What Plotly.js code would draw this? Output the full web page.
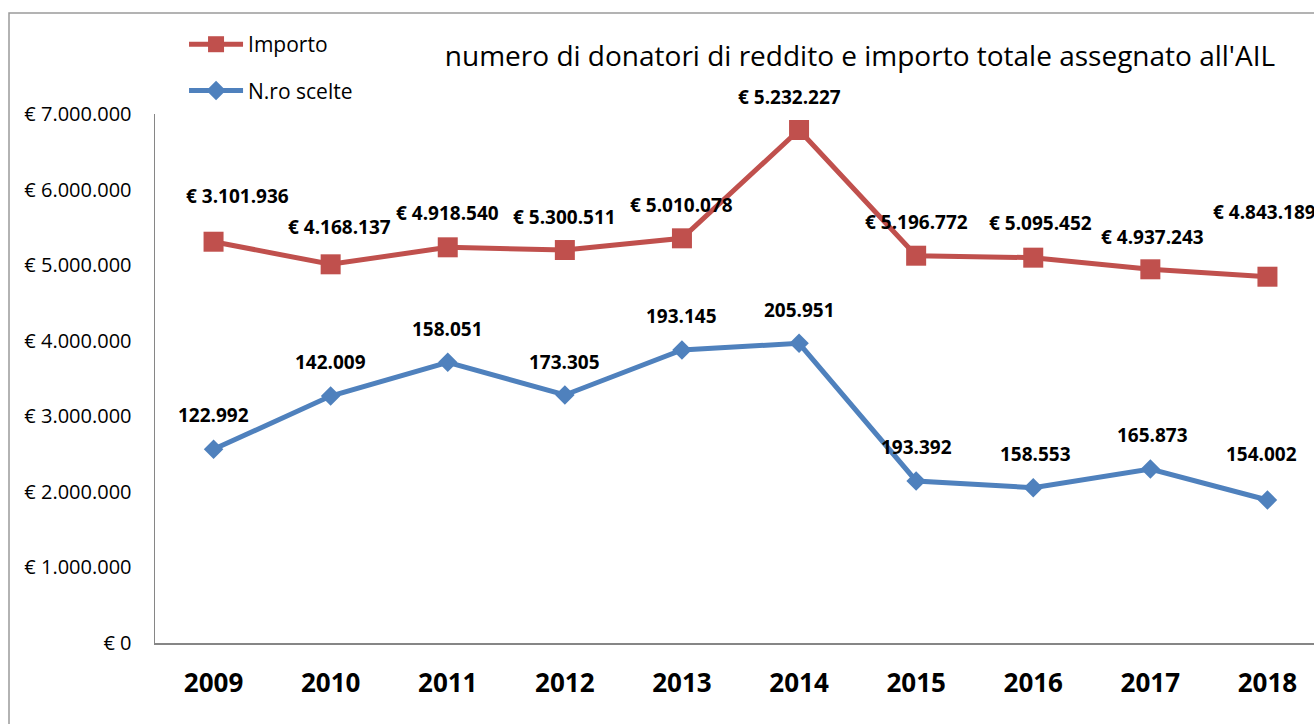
<!DOCTYPE html>
<html>
<head>
<meta charset="utf-8">
<script src="https://cdn.plot.ly/plotly-3.0.1.min.js"></script>
<style>
  html, body { margin: 0; padding: 0; overflow: hidden; background: #fff; width: 1314px; height: 724px; }
  #chart { position: absolute; left: 0; top: 0; width: 1340px; height: 724px; }
  #err { position: absolute; left: 300px; top: 560px; color: red; font: 14px monospace; z-index: 10; }
</style>
</head>
<body>
<div id="chart"></div>
<div id="err"></div>
<script>
window.onerror = function (m) { document.getElementById('err').textContent += ' ERR: ' + m; };
const EUR = '\u20AC';

// ---- data ----
const years = ['2009','2010','2011','2012','2013','2014','2015','2016','2017','2018'];

// plotted positions of the two series (euro scale of the axis)
const importoValues = [5310000, 5011000, 5236000, 5200000, 5355000, 6788000, 5125000, 5099000, 4945000, 4847000];
const scelteValues  = [2563000, 3268000, 3714000, 3282000, 3877000, 3966000, 2144000, 2055000, 2302000, 1892000];

// data labels as printed on the chart
const importoLabels = ['3.101.936','4.168.137','4.918.540','5.300.511','5.010.078',
                       '5.232.227','5.196.772','5.095.452','4.937.243','4.843.189'].map(s => EUR + ' ' + s);
const scelteLabels  = ['122.992','142.009','158.051','173.305','193.145',
                       '205.951','193.392','158.553','165.873','154.002'];

const yTicks = [0, 1000000, 2000000, 3000000, 4000000, 5000000, 6000000, 7000000];
const yTickText = ['0','1.000.000','2.000.000','3.000.000','4.000.000','5.000.000','6.000.000','7.000.000'].map(s => EUR + ' ' + s);

// ---- label nudges (pixels) ----
const importoShiftX = [24, 9, 0, 0, 0, -10, 0, 7, 2, -3];
const importoShiftY = [46, 37, 34, 33, 33, 33, 34, 35, 32, 65];
const scelteShiftX  = [0, 0, 0, 0, 0, 0, 0, 2, 2, -6];
const scelteShiftY  = [34, 34, 33, 33, 34, 33, 34, 34, 34, 46];

const RED = '#C0504D';
const BLUE = '#4F81BD';
const FONT = 'Open Sans, Noto Sans, DejaVu Sans, sans-serif';

const traces = [
  {
    x: years, y: importoValues, name: 'Importo', type: 'scatter', mode: 'lines+markers',
    line: { color: RED, width: 5 },
    marker: { symbol: 'square', size: 20, color: RED },
    legendgroup: 'a', hoverinfo: 'skip'
  },
  {
    x: years, y: scelteValues, name: 'N.ro scelte', type: 'scatter', mode: 'lines+markers',
    line: { color: BLUE, width: 5 },
    marker: { symbol: 'diamond', size: 15, color: BLUE },
    legendgroup: 'b', hoverinfo: 'skip'
  }
];

const annotations = [];
for (let i = 0; i < years.length; i++) {
  annotations.push({
    x: i, y: importoValues[i], xref: 'x', yref: 'y', text: importoLabels[i],
    showarrow: false, xshift: importoShiftX[i], yshift: importoShiftY[i],
    font: { family: FONT, size: 19, color: '#000000', weight: 700 }
  });
  annotations.push({
    x: i, y: scelteValues[i], xref: 'x', yref: 'y', text: scelteLabels[i],
    showarrow: false, xshift: scelteShiftX[i], yshift: scelteShiftY[i],
    font: { family: FONT, size: 19, color: '#000000', weight: 700 }
  });
}

const layout = {
  width: 1340, height: 724,
  margin: { l: 155, r: 14, t: 114, b: 81, pad: 0 },
  paper_bgcolor: '#fff', plot_bgcolor: '#fff',
  font: { family: FONT, color: '#000' },
  title: {
    text: "numero di donatori di reddito e importo totale assegnato all'AIL",
    font: { family: FONT, size: 28, color: '#000' },
    xref: 'container', yref: 'container', x: 860 / 1340, xanchor: 'center',
    y: 1 - 56 / 724, yanchor: 'middle'
  },
  showlegend: true,
  legend: {
    x: 0.0248, xanchor: 'left', y: 1.17, yanchor: 'top',
    orientation: 'v', traceorder: 'grouped', tracegroupgap: 16,
    font: { family: FONT, size: 21, color: '#000' },
    bgcolor: 'rgba(0,0,0,0)', itemwidth: 54
  },
  xaxis: {
    type: 'category', range: [-0.5, 9.5], fixedrange: true,
    showline: true, linecolor: '#868686', linewidth: 1.5,
    showgrid: false, zeroline: false, ticks: '',
    tickfont: { family: FONT, size: 26, color: '#000', weight: 700 },
    ticklabelstandoff: 16
  },
  yaxis: {
    range: [0, 7000000], fixedrange: true,
    tickmode: 'array', tickvals: yTicks, ticktext: yTickText,
    showline: true, linecolor: '#868686', linewidth: 1.5,
    showgrid: false, zeroline: false, ticks: '',
    tickfont: { family: FONT, size: 20, color: '#000' },
    ticklabelstandoff: 18
  },
  annotations: annotations,
  shapes: [{
    type: 'rect', xref: 'paper', yref: 'paper',
    x0: (9 - 155) / 1171, x1: 1.2, y0: -0.5, y1: (643 - 13) / 529,
    line: { color: '#9a9a9a', width: 1.5 }, fillcolor: 'rgba(0,0,0,0)', layer: 'below'
  }]
};

Plotly.newPlot('chart', traces, layout, { displayModeBar: false, staticPlot: true })
  .catch(e => { document.getElementById('err').textContent += ' PERR: ' + e; });
</script>
</body>
</html>
